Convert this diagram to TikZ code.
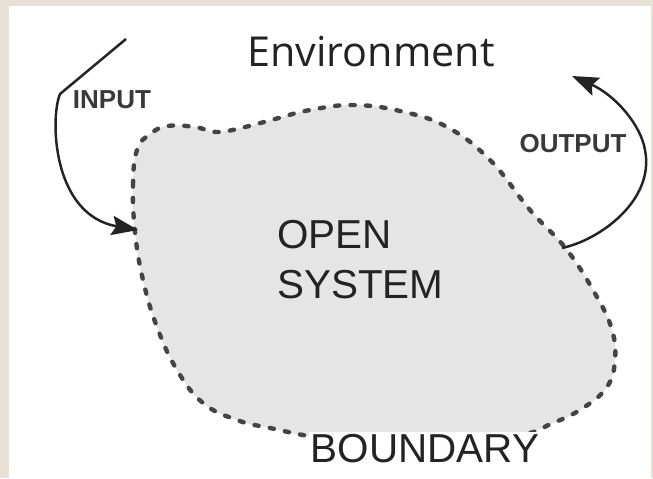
\documentclass[tikz,border=0pt]{standalone}
\usepackage{fontspec}
\setmainfont{Liberation Sans}
\newfontfamily\envfont{Open Sans}
\usetikzlibrary{arrows.meta}
\definecolor{frame}{RGB}{230,224,213}
\definecolor{sysgray}{RGB}{229,229,229}
\definecolor{ink}{RGB}{35,35,35}

\begin{document}
\begin{tikzpicture}[x=0.02cm, y=-0.02cm,
  flow/.style={-{Stealth[length=15pt,width=11pt,inset=2.5pt]}, line width=1.4pt, draw=ink},
  tag/.style={font=\fontsize{14.8}{17}\selectfont\bfseries, text=ink!90, inner sep=0pt},
  big/.style={font=\fontsize{23}{28.3}\selectfont, text=ink, inner sep=0pt}]

% frame
\useasboundingbox (0,0) rectangle (653,478);
\fill[frame] (0,0) rectangle (653,478);
\fill[white] (9,6) rectangle (651,478);

% the system
\draw[fill=sysgray, draw=ink!85, line width=2.5pt, line cap=round, dash pattern=on 2.4pt off 6.4pt]
  plot[smooth cycle, tension=0.7] coordinates {(135,232) (133,185) (137,150) (150,134) (168,126) (195,127) (217,132) (245,127) (275,119) (310,110) (353,105) (400,111) (447,127) (490,160) (530,210) (567,250) (597,297) (612,330) (615,360) (607,387) (583,408) (553,423) (515,436) (420,445) (330,439) (270,428) (237,420) (203,403) (177,370) (157,327) (143,280)};

\node[font=\envfont\fontsize{23.5}{27}\selectfont, text=ink, anchor=base] (env) at (371,66) {Environment};
\node[big, align=left, anchor=base west] (sys) at (277,298) {OPEN\\SYSTEM};
\node[big, fill=white, inner sep=1pt, anchor=base] (bound) at (425,462) {BOUNDARY};
\node[tag, anchor=base] (in) at (112,108) {INPUT};
\node[tag, anchor=base] (out) at (573,152) {OUTPUT};

% flows in and out
\coordinate (src) at (126,39);
\coordinate (inlet) at (138,230);
\coordinate (outlet) at (562,248);
\coordinate (dst) at (572,76);
\draw[flow] (src) -- (60,94) .. controls (50,118) and (52,215) .. (inlet);
\draw[flow] (outlet) .. controls (600,240) and (655,200) .. (645,150) .. controls (641,125) and (615,95) .. (dst);
\end{tikzpicture}
\end{document}
